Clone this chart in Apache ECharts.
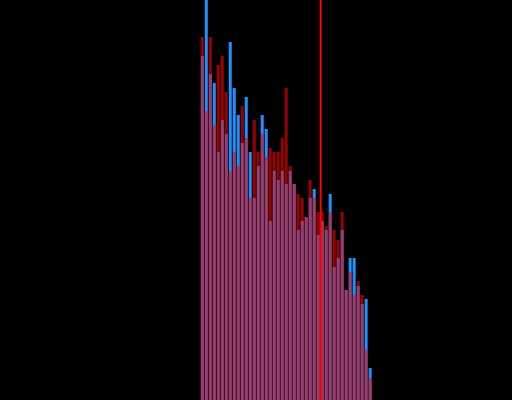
<!DOCTYPE html>
<html>
<head>
<meta charset="utf-8">
<script src="https://cdn.jsdelivr.net/npm/echarts@6/dist/echarts.min.js"></script>
<style>
html,body{margin:0;padding:0;background:#000;}
#chart{width:512px;height:400px;}
</style>
</head>
<body>
<div id="chart"></div>
<script>
// number of bins on the x axis and the first bin that holds data
const binCount = 128;
const firstBin = 50;
// blue series values
const blueValues = [344, 415, 326, 317, 248, 280, 266, 358, 312, 285, 257, 303, 248, 202, 234, 285,
  271, 179, 229, 220, 229, 216, 229, 216, 170, 179, 183, 202, 211, 165, 179, 170, 206, 133, 142, 170,
  110, 142, 142, 114, 96, 101, 32];
// red series values
const redValues = [363, 289, 363, 275, 335, 344, 308, 229, 248, 234, 294, 262, 202, 280, 248, 266,
  243, 252, 248, 248, 262, 312, 234, 216, 206, 202, 183, 220, 202, 188, 188, 174, 188, 170, 160, 188,
  110, 128, 105, 119, 105, 50, 22];
// vertical marker position (in bins)
const markerX = 80.125;
const yMax = 400;

const categories = [];
for (let i = 0; i < binCount; i++) categories.push(String(i));
function pad(vals) {
  const out = [];
  for (let i = 0; i < binCount; i++) {
    const j = i - firstBin;
    out.push(j >= 0 && j < vals.length ? vals[j] : null);
  }
  return out;
}

const chart = echarts.init(document.getElementById('chart'), null, {renderer: 'canvas'});
chart.setOption({
  backgroundColor: '#000000',
  animation: false,
  grid: {left: 0.5, right: -0.5, top: 0, bottom: 0},
  xAxis: [
    {type: 'category', data: categories, show: false, boundaryGap: true},
    {type: 'value', min: 0, max: binCount, show: false}
  ],
  yAxis: {type: 'value', min: 0, max: yMax, show: false},
  series: [
    {
      type: 'bar', data: pad(blueValues), barWidth: 3, barGap: '-100%',
      itemStyle: {color: '#1e90ff'}
    },
    {
      type: 'bar', data: pad(redValues), barWidth: 3, barGap: '-100%',
      itemStyle: {color: '#ff0000', opacity: 0.6}
    },
    {
      type: 'line', xAxisIndex: 1, data: [[markerX, 0], [markerX, yMax]],
      symbol: 'none', lineStyle: {color: '#ff0000', width: 2}, z: 5
    }
  ]
});
</script>
</body>
</html>
